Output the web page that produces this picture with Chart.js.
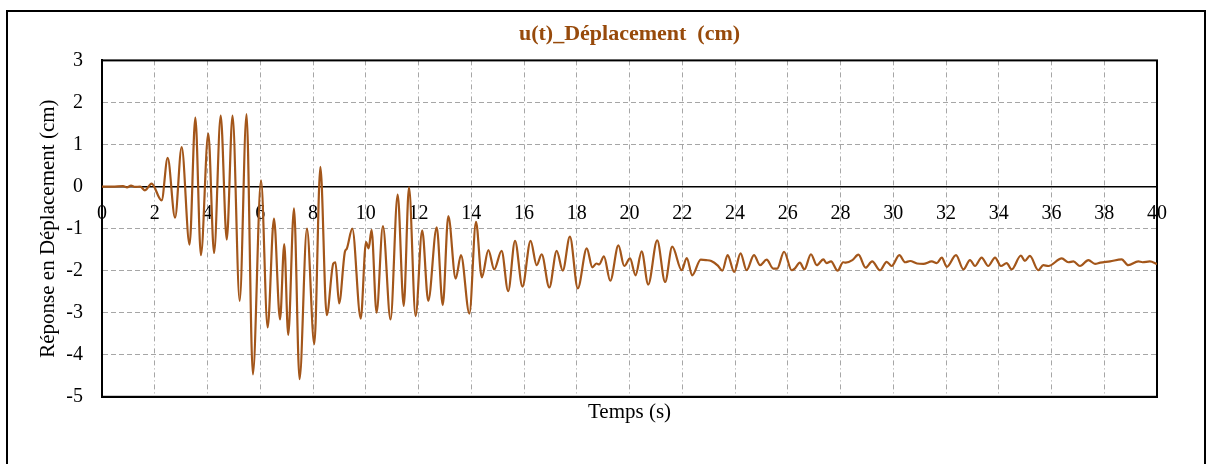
<!DOCTYPE html>
<html lang="fr">
<head>
<meta charset="utf-8">
<title>u(t) Déplacement</title>
<script src="https://cdn.jsdelivr.net/npm/chart.js@4/dist/chart.umd.min.js"></script>
<style>
    html, body { margin: 0; padding: 0; background: #fff; overflow: hidden; }
    #cadre { position: absolute; left: 6px; top: 10px; width: 1196px; height: 500px; border: 2px solid #000; }
    #zone { position: absolute; left: 0; top: 0; width: 1213px; height: 464px; }
</style>
</head>
<body>
<div id="cadre"></div>
<div id="zone"><canvas id="deplChart"></canvas></div>
<script>
// Valeurs (temps en s, déplacement en cm)
const temps = [
    0, 0.4, 0.8, 0.95, 1.1, 1.25, 1.45, 1.63, 1.88, 2.26,
    2.49, 2.77, 3.02, 3.32, 3.54, 3.75, 4.03, 4.25, 4.5, 4.73,
    4.95, 5.22, 5.48, 5.72, 6.03, 6.28, 6.52, 6.75, 6.91, 7.06,
    7.28, 7.49, 7.77, 8.05, 8.28, 8.52, 8.77, 8.85, 8.99, 9.21,
    9.28, 9.49, 9.81, 10.01, 10.11, 10.22, 10.41, 10.65, 10.94, 11.21,
    11.44, 11.64, 11.89, 12.14, 12.37, 12.69, 12.92, 13.13, 13.41, 13.61,
    13.93, 14.18, 14.4, 14.65, 14.87, 15.15, 15.4, 15.66, 15.94, 16.25,
    16.48, 16.67, 16.96, 17.24, 17.47, 17.74, 18.04, 18.38, 18.59, 18.75,
    18.85, 19.03, 19.27, 19.58, 19.8, 20.02, 20.23, 20.46, 20.71, 21.05,
    21.35, 21.62, 21.98, 22.17, 22.38, 22.7, 22.9, 23.1, 23.35, 23.52,
    23.72, 23.97, 24.21, 24.44, 24.72, 24.95, 25.2, 25.45, 25.6, 25.86,
    26.15, 26.25, 26.46, 26.63, 26.88, 27.1, 27.35, 27.47, 27.64, 27.89,
    28.1, 28.2, 28.45, 28.68, 28.95, 29.2, 29.5, 29.75, 29.94, 30.23,
    30.45, 30.64, 30.9, 31.14, 31.46, 31.65, 31.84, 32.03, 32.38, 32.66,
    32.91, 33.1, 33.35, 33.6, 33.86, 34.08, 34.3, 34.49, 34.84, 34.99,
    35.18, 35.5, 35.69, 35.88, 36.39, 36.64, 36.83, 37.08, 37.4, 37.65,
    37.85, 38.22, 38.66, 38.91, 39.29, 39.45, 39.73, 40
];

const deplacement = [
    0, 0, 0.01, -0.02, 0.02, -0.01, 0, -0.09, 0.07, -0.33,
    0.68, -0.74, 0.94, -1.38, 1.64, -1.63, 1.26, -1.58, 1.69, -1.26,
    1.69, -2.72, 1.72, -4.47, 0.15, -3.35, -0.76, -3.16, -1.37, -3.53,
    -0.52, -4.58, -1.0, -3.75, 0.47, -3.06, -1.83, -1.8, -2.78, -1.55,
    -1.48, -1.0, -3.14, -1.32, -1.47, -1.03, -3.0, -0.94, -3.16, -0.19,
    -2.84, -0.02, -3.08, -1.04, -2.72, -0.97, -2.82, -0.7, -2.19, -1.63,
    -3.02, -0.84, -2.16, -1.51, -1.97, -1.53, -2.49, -1.29, -2.38, -1.29,
    -1.87, -1.61, -2.4, -1.53, -2.0, -1.19, -2.42, -1.47, -1.92, -1.83,
    -1.85, -1.66, -2.24, -1.4, -1.89, -1.71, -2.11, -1.54, -2.33, -1.28,
    -2.27, -1.43, -1.99, -1.7, -2.11, -1.74, -1.75, -1.77, -1.88, -2.0,
    -1.63, -2.03, -1.59, -1.99, -1.63, -1.87, -1.74, -1.95, -1.95, -1.55,
    -1.99, -1.96, -1.81, -1.97, -1.61, -1.87, -1.73, -1.82, -1.78, -2.0,
    -1.8, -1.81, -1.75, -1.62, -1.93, -1.78, -1.99, -1.79, -1.89, -1.63,
    -1.8, -1.77, -1.83, -1.84, -1.78, -1.82, -1.69, -1.91, -1.63, -1.97,
    -1.75, -1.89, -1.69, -1.89, -1.69, -1.89, -1.82, -1.97, -1.64, -1.77,
    -1.65, -1.99, -1.87, -1.89, -1.71, -1.8, -1.78, -1.89, -1.75, -1.84,
    -1.81, -1.78, -1.73, -1.87, -1.78, -1.8, -1.78, -1.84
];

const titre = 'u(t)_Déplacement  (cm)';
const titreX = 'Temps (s)';
const titreY = 'Réponse en Déplacement (cm)';

const tempsMin = 0;
const tempsMax = 40;
const pasTemps = 2;
const deplMin = -5;
const deplMax = 3;
const pasDepl = 1;

const police = "'Liberation Serif', 'Times New Roman', serif";
const brun = '#A3561A';
const gris = '#a6a6a6';

// Cadre noir autour de la zone de tracé
const cadrePlot =
{
    id: 'cadrePlot',
    beforeDatasetsDraw(chart)
    {
        const { ctx, chartArea } = chart;
        ctx.save();
        ctx.strokeStyle = '#000';
        ctx.lineWidth = 2;
        ctx.strokeRect(chartArea.left, chartArea.top, chartArea.right - chartArea.left, chartArea.bottom - chartArea.top);
        ctx.restore();
    }
};

const points = temps.map((t, i) => ({ x: t, y: deplacement[i] }));

new Chart(document.getElementById('deplChart'),
{
    type: 'line',
    data:
    {
        datasets:
        [
            {
                label: 'u(t)',
                data: points,
                xAxisID: 'x',
                yAxisID: 'y',
                borderColor: brun,
                borderWidth: 2.2,
                pointRadius: 0,
                fill: false,
                cubicInterpolationMode: 'monotone'
            }
        ]
    },
    options:
    {
        responsive: true,
        maintainAspectRatio: false,
        animation: false,
        layout: { padding: { left: 25, right: 56, top: 0, bottom: 35 } },
        plugins:
        {
            legend: { display: false },
            tooltip: { enabled: false },
            title:
            {
                display: true,
                text: titre,
                color: '#974A0B',
                fullSize: false,
                font: { family: police, size: 22, weight: 'bold' },
                padding: { top: 21, bottom: 13 }
            }
        },
        scales:
        {
            x:
            {
                type: 'linear',
                position: 'bottom',
                min: tempsMin,
                max: tempsMax,
                ticks: { display: false, stepSize: pasTemps },
                grid: { color: gris, lineWidth: 1, drawTicks: false },
                border: { display: true, color: '#000', width: 2, dash: [5, 3, 1, 3] },
                title:
                {
                    display: true,
                    text: titreX,
                    color: '#000',
                    font: { family: police, size: 21 },
                    padding: { top: 3, bottom: 4 }
                }
            },
            y:
            {
                type: 'linear',
                min: deplMin,
                max: deplMax,
                ticks: { stepSize: pasDepl, color: '#000', font: { family: police, size: 20 }, padding: 19 },
                grid: { color: gris, lineWidth: 1, drawTicks: false },
                border: { display: true, color: '#000', width: 2, dash: [5, 3] },
                title:
                {
                    display: true,
                    text: titreY,
                    color: '#000',
                    font: { family: police, size: 21 },
                    padding: { top: 11, bottom: 0 }
                },
                afterFit: (scale) => { scale.width = 77; }
            },
            x2:
            {
                type: 'linear',
                axis: 'x',
                position: { y: 0 },
                min: tempsMin,
                max: tempsMax,
                ticks: { stepSize: pasTemps, color: '#000', font: { family: police, size: 20 }, padding: 15, maxRotation: 0 },
                grid: { display: false, drawTicks: false },
                border: { display: true, color: '#000', width: 1.5 }
            }
        }
    },
    plugins: [cadrePlot]
});
</script>
</body>
</html>
